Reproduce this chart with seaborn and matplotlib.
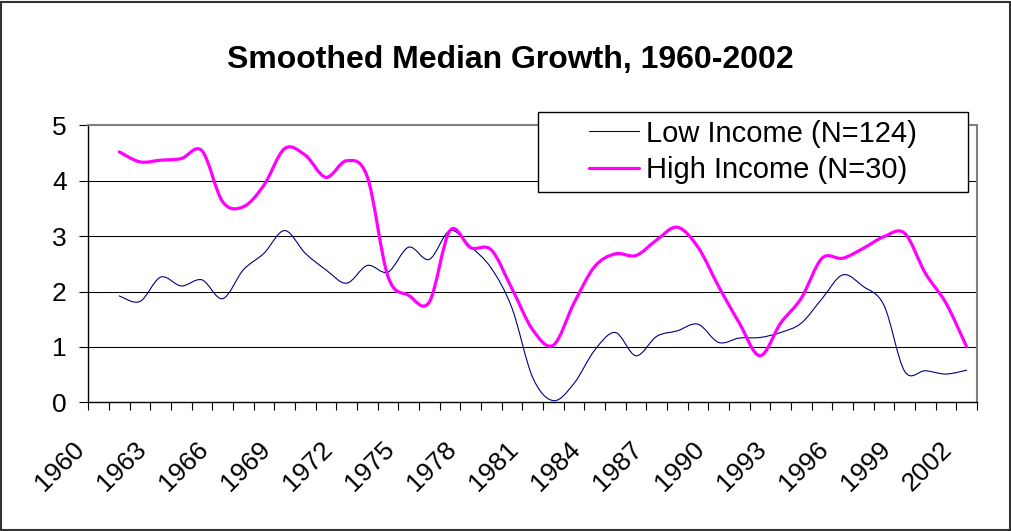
import numpy as np
import pandas as pd
import matplotlib
matplotlib.use("Agg")
import matplotlib.pyplot as plt
import seaborn as sns
from matplotlib.path import Path
from matplotlib.patches import PathPatch, Rectangle
from matplotlib.lines import Line2D
from matplotlib.transforms import ScaledTranslation

# ---------------- data ----------------
years = list(range(1960, 2003))
low_income = [np.nan,
              1.92, 1.82, 2.26, 2.10, 2.21, 1.87, 2.39, 2.69, 3.10,
              2.69, 2.39, 2.15, 2.47, 2.35, 2.80, 2.58, 3.10, 2.81, 2.42,
              1.70, 0.45, 0.03, 0.34, 0.94, 1.26, 0.84, 1.19, 1.29, 1.41,
              1.08, 1.16, 1.17, 1.26, 1.43, 1.87, 2.30, 2.09, 1.75, 0.56,
              0.57, 0.51, 0.58]
high_income = [np.nan,
               4.52, 4.34, 4.37, 4.40, 4.54, 3.62, 3.53, 3.92, 4.58,
               4.46, 4.06, 4.36, 4.07, 2.27, 1.93, 1.81, 3.10, 2.79, 2.75,
               2.05, 1.31, 1.03, 1.79, 2.45, 2.68, 2.65, 2.93, 3.16, 2.80,
               2.09, 1.43, 0.84, 1.43, 1.88, 2.60, 2.60, 2.78, 2.99, 3.05,
               2.33, 1.79, 1.00]
series_names = ["Low Income (N=124)", "High Income (N=30)"]
series_colors = ["#000080", "#FF00FF"]
series_widths = [0.8, 2.3]
title = "Smoothed Median Growth, 1960-2002"
y_ticks = [0, 1, 2, 3, 4, 5]
label_step = 3

# ---------------- style ----------------
sns.set_style("white")
plt.rcParams["font.family"] = ["Liberation Sans", "DejaVu Sans"]
plt.rcParams["text.color"] = "black"
plt.rcParams["xtick.color"] = "black"
plt.rcParams["ytick.color"] = "black"
plt.rcParams["xtick.labelcolor"] = "black"
plt.rcParams["ytick.labelcolor"] = "black"

df = pd.DataFrame({"pos": np.arange(len(years)), "year": years,
                   "low": low_income, "high": high_income})
long = df.melt(id_vars=["pos", "year"], value_vars=["low", "high"],
               var_name="series", value_name="growth").dropna()
long["series"] = long["series"].map({"low": series_names[0], "high": series_names[1]})

W, H = 1012, 531
fig = plt.figure(figsize=(W / 100, H / 100), dpi=100)
L, R, T, B = 88.3, 977.0, 125.3, 402.3
ax = fig.add_axes([L / W, 1 - B / H, (R - L) / W, (B - T) / H])

sns.lineplot(data=long, x="pos", y="growth", hue="series", hue_order=series_names,
             palette=series_colors, ax=ax, legend=False, sort=True)


def smooth_path(xy):
    n = len(xy)
    verts = [xy[0]]
    codes = [Path.MOVETO]
    for i in range(n - 1):
        p0 = xy[max(i - 1, 0)]
        p1 = xy[i]
        p2 = xy[i + 1]
        p3 = xy[min(i + 2, n - 1)]
        c1 = p1 + (p2 - p0) / 6.0
        c2 = p2 - (p3 - p1) / 6.0
        verts += [c1, c2, p2]
        codes += [Path.CURVE4] * 3
    return Path(verts, codes)


color_to_width = dict(zip([matplotlib.colors.to_hex(c) for c in series_colors], series_widths))
for line in list(ax.get_lines()):
    xy = line.get_xydata()
    xy = xy[~np.isnan(xy).any(axis=1)]
    col = matplotlib.colors.to_hex(line.get_color())
    lw = color_to_width.get(col, 1.0)
    patch = PathPatch(smooth_path(xy), facecolor="none", edgecolor=col, lw=lw,
                      zorder=3 if lw > 1 else 2.5, capstyle="round", joinstyle="round")
    ax.add_patch(patch)
    line.set_visible(False)

ax.set_xlim(-0.5, len(years) - 0.5)
ax.set_ylim(0, 5)
ax.set_xlabel("")
ax.set_ylabel("")

# grid
ax.set_axisbelow(True)
ax.yaxis.grid(True, color="black", lw=0.75)
ax.xaxis.grid(False)

# y ticks
ax.set_yticks(y_ticks)
ax.set_yticklabels([str(v) for v in y_ticks])
ax.tick_params(axis="y", length=6.5, width=0.8, color="black", direction="out",
               pad=9, labelsize=19, left=True, labelcolor="black")

# x ticks
pos = np.arange(len(years))
ax.set_xticks(pos[::label_step])
ax.set_xticklabels([str(y) for y in years[::label_step]], rotation=45, ha="right",
                   va="center", rotation_mode="anchor", fontsize=19, color="black")
ax.set_xticks(np.arange(-0.5, len(years)), minor=True)
ax.tick_params(axis="x", which="major", length=0, pad=31)
ax.tick_params(axis="x", which="minor", length=5.4, width=0.8, color="black",
               direction="out", bottom=True)
off = ScaledTranslation(-0.18, 0, fig.dpi_scale_trans)
for lbl in ax.get_xticklabels():
    lbl.set_transform(lbl.get_transform() + off)

# spines
for s in ["left", "bottom"]:
    ax.spines[s].set_color("black")
    ax.spines[s].set_linewidth(1.0)
for s in ["top", "right"]:
    ax.spines[s].set_color("#808080")
    ax.spines[s].set_linewidth(1.5)
    ax.spines[s].set_visible(True)

# legend box + legend
box = Rectangle((538 / W, 1 - 192 / H), (968 - 538) / W, (192 - 112) / H,
                transform=fig.transFigure, facecolor="white", edgecolor="black",
                lw=1.0, zorder=4, clip_on=False)
ax.add_artist(box)
handles = [Line2D([0], [0], color=c, lw=w) for c, w in zip(series_colors, series_widths)]
leg = ax.legend(handles, series_names, loc="center",
                bbox_to_anchor=(753 / W, 1 - 152 / H), bbox_transform=fig.transFigure,
                frameon=False, fontsize=21, handlelength=1.7, handletextpad=0.25,
                labelspacing=0.30, borderpad=0)
for t in leg.get_texts():
    t.set_color("black")
leg.set_zorder(5)

# title
fig.text(510 / W, 1 - 68 / H, title, ha="center", va="baseline",
         fontsize=23, fontweight="bold", color="black")

# outer chart border
fig.patches.append(Rectangle((1.0 / W, 1.0 / H), (W - 2.5) / W, (H - 2.5) / H,
                             transform=fig.transFigure, fill=False,
                             edgecolor="#333333", lw=1.5))

fig.savefig("out.png", dpi=100)
